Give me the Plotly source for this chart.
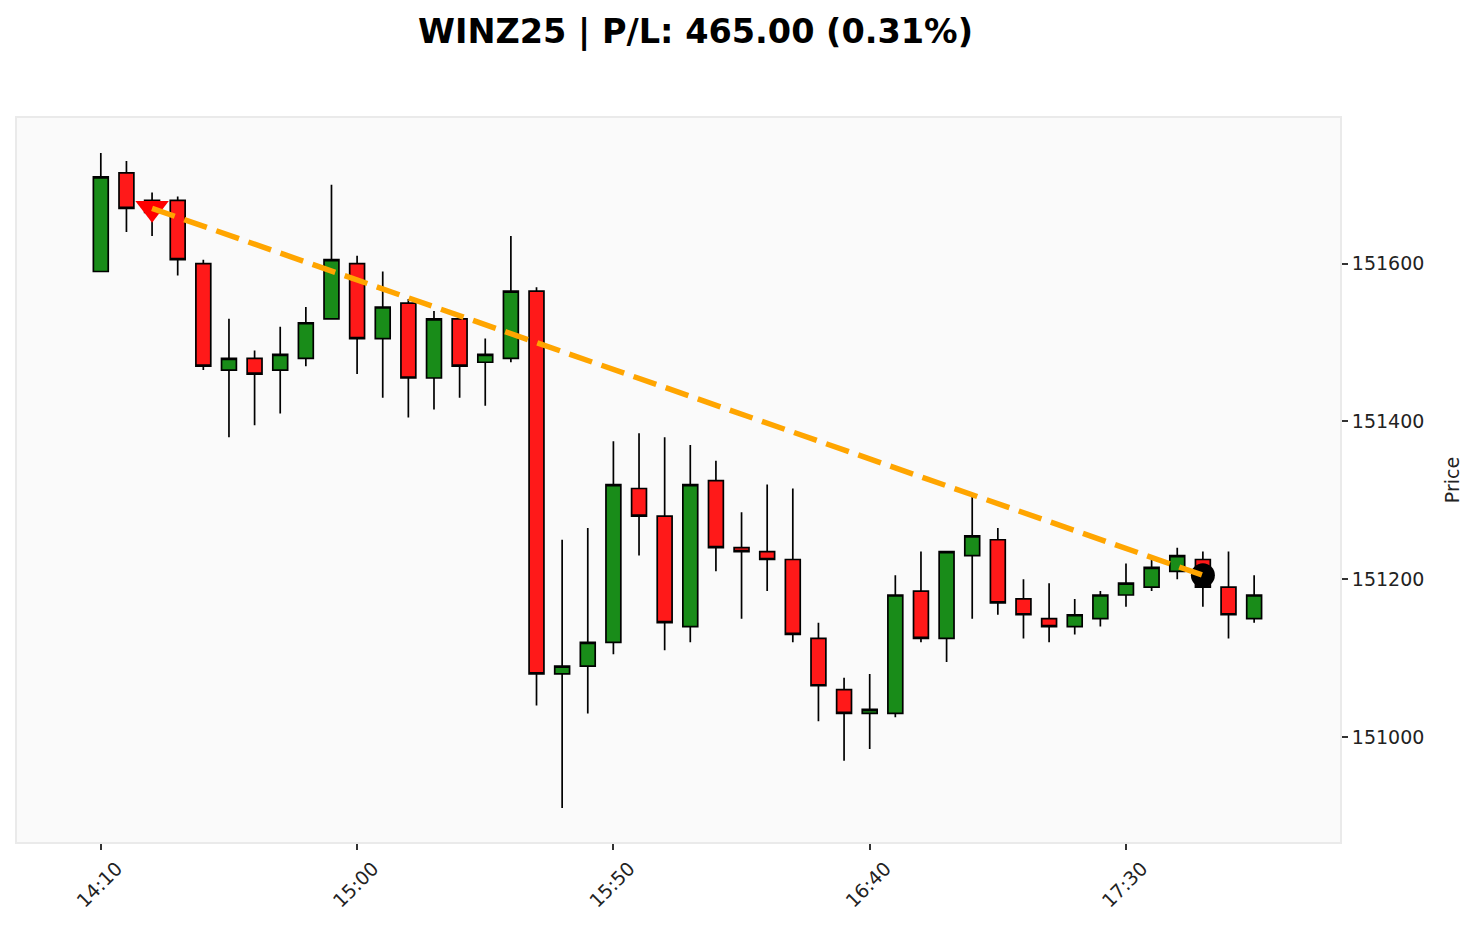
import plotly.graph_objects as go

# ---- data ----
times = ["14:10", "14:15", "14:20", "14:25", "14:30", "14:35", "14:40", "14:45", "14:50", "14:55",
         "15:00", "15:05", "15:10", "15:15", "15:20", "15:25", "15:30", "15:35", "15:40", "15:45",
         "15:50", "15:55", "16:00", "16:05", "16:10", "16:15", "16:20", "16:25", "16:30", "16:35",
         "16:40", "16:45", "16:50", "16:55", "17:00", "17:05", "17:10", "17:15", "17:20", "17:25",
         "17:30", "17:35", "17:40", "17:45", "17:50", "17:55"]
opens = [151590, 151715, 151680, 151680, 151600, 151465, 151480, 151465, 151480, 151530,
         151600, 151505, 151550, 151455, 151530, 151475, 151480, 151565, 151080, 151090,
         151120, 151315, 151280, 151140, 151325, 151240, 151235, 151225, 151125, 151060,
         151030, 151030, 151185, 151125, 151230, 151250, 151175, 151150, 151140, 151150,
         151180, 151190, 151210, 151225, 151190, 151150]
highs = [151740, 151730, 151690, 151685, 151605, 151530, 151490, 151520, 151545, 151700,
         151610, 151590, 151555, 151540, 151535, 151505, 151635, 151570, 151250, 151265,
         151375, 151385, 151380, 151370, 151350, 151285, 151320, 151315, 151145, 151075,
         151080, 151205, 151235, 151235, 151305, 151265, 151200, 151195, 151175, 151185,
         151220, 151225, 151240, 151235, 151235, 151205]
lows = [151590, 151640, 151635, 151585, 151465, 151380, 151395, 151410, 151470, 151530,
        151460, 151430, 151405, 151415, 151430, 151420, 151475, 151040, 150910, 151030,
        151105, 151230, 151110, 151120, 151210, 151150, 151185, 151120, 151020, 150970,
        150985, 151025, 151120, 151095, 151150, 151155, 151125, 151120, 151130, 151140,
        151165, 151185, 151200, 151165, 151125, 151145]
closes = [151710, 151670, 151665, 151605, 151470, 151480, 151460, 151485, 151525, 151605,
          151505, 151545, 151455, 151530, 151470, 151485, 151565, 151080, 151090, 151120,
          151320, 151280, 151145, 151320, 151240, 151235, 151225, 151130, 151065, 151030,
          151035, 151180, 151125, 151235, 151255, 151170, 151155, 151140, 151155, 151180,
          151195, 151215, 151230, 151190, 151155, 151180]

entry_time = "14:20"
entry_price = 151670
exit_time = "17:45"
exit_price = 151205
symbol = "WINZ25"
pnl = 465.00
pnl_pct = 0.31

tick_vals = ["14:10", "15:00", "15:50", "16:40", "17:30"]
y_ticks = [151000, 151200, 151400, 151600]

FONT = "DejaVu Sans"

fig = go.Figure()

fig.add_trace(go.Candlestick(
    x=times, open=opens, high=highs, low=lows, close=closes,
    increasing=dict(line=dict(color="black", width=1.7), fillcolor="rgb(25,140,25)"),
    decreasing=dict(line=dict(color="black", width=1.7), fillcolor="rgb(255,25,25)"),
    whiskerwidth=0, showlegend=False, hoverinfo="skip",
))

fig.add_trace(go.Scatter(
    x=[entry_time], y=[entry_price], mode="markers",
    marker=dict(symbol="triangle-down", size=29, color="rgb(255,0,0)", line=dict(width=0)),
    showlegend=False, hoverinfo="skip",
))
fig.add_trace(go.Scatter(
    x=[exit_time], y=[exit_price], mode="markers",
    marker=dict(symbol="circle", size=24, color="black", line=dict(width=0)),
    showlegend=False, hoverinfo="skip",
))
fig.add_trace(go.Scatter(
    x=[entry_time, exit_time], y=[entry_price, exit_price], mode="lines",
    line=dict(color="orange", width=5.5, dash="24px,10px"),
    showlegend=False, hoverinfo="skip",
))

fig.update_layout(
    width=1477, height=929,
    margin=dict(l=7, r=145, t=110, b=95),
    paper_bgcolor="white",
    plot_bgcolor="rgb(250,250,250)",
    boxgap=0.42, boxgroupgap=0,
    font=dict(family=FONT, size=19, color="#222222"),
    title=dict(
        text=f"<b>{symbol} | P/L: {pnl:.2f} ({pnl_pct:.2f}%)</b>",
        x=687.5 / 1477, xref="container", xanchor="center",
        y=1 - 23 / 929, yref="container", yanchor="middle",
        font=dict(family=FONT, size=33.5, color="black"),
    ),
    xaxis=dict(
        type="category",
        range=[-3.27, 48.35],
        rangeslider=dict(visible=False),
        tickmode="array", tickvals=tick_vals, ticktext=tick_vals,
        tickangle=-45,
        ticks="outside", ticklen=6, tickwidth=1.5, tickcolor="#333333",
        ticklabelshift=16,
        tickfont=dict(family=FONT, size=19, color="#222222"),
        showgrid=False, zeroline=False,
        showline=True, linecolor="rgb(234,234,234)", linewidth=2, mirror=True,
    ),
    yaxis=dict(
        side="right",
        range=[150867, 151784.5],
        tickmode="array", tickvals=y_ticks, ticktext=[str(v) for v in y_ticks],
        ticks="outside", ticklen=6, tickwidth=1.5, tickcolor="#333333",
        tickfont=dict(family=FONT, size=19, color="#222222"),
        showgrid=False, zeroline=False,
        showline=True, linecolor="rgb(234,234,234)", linewidth=2, mirror=True,
        title=dict(text="Price", standoff=22, font=dict(family=FONT, size=19, color="#222222")),
    ),
)

fig.write_html("out.html")
